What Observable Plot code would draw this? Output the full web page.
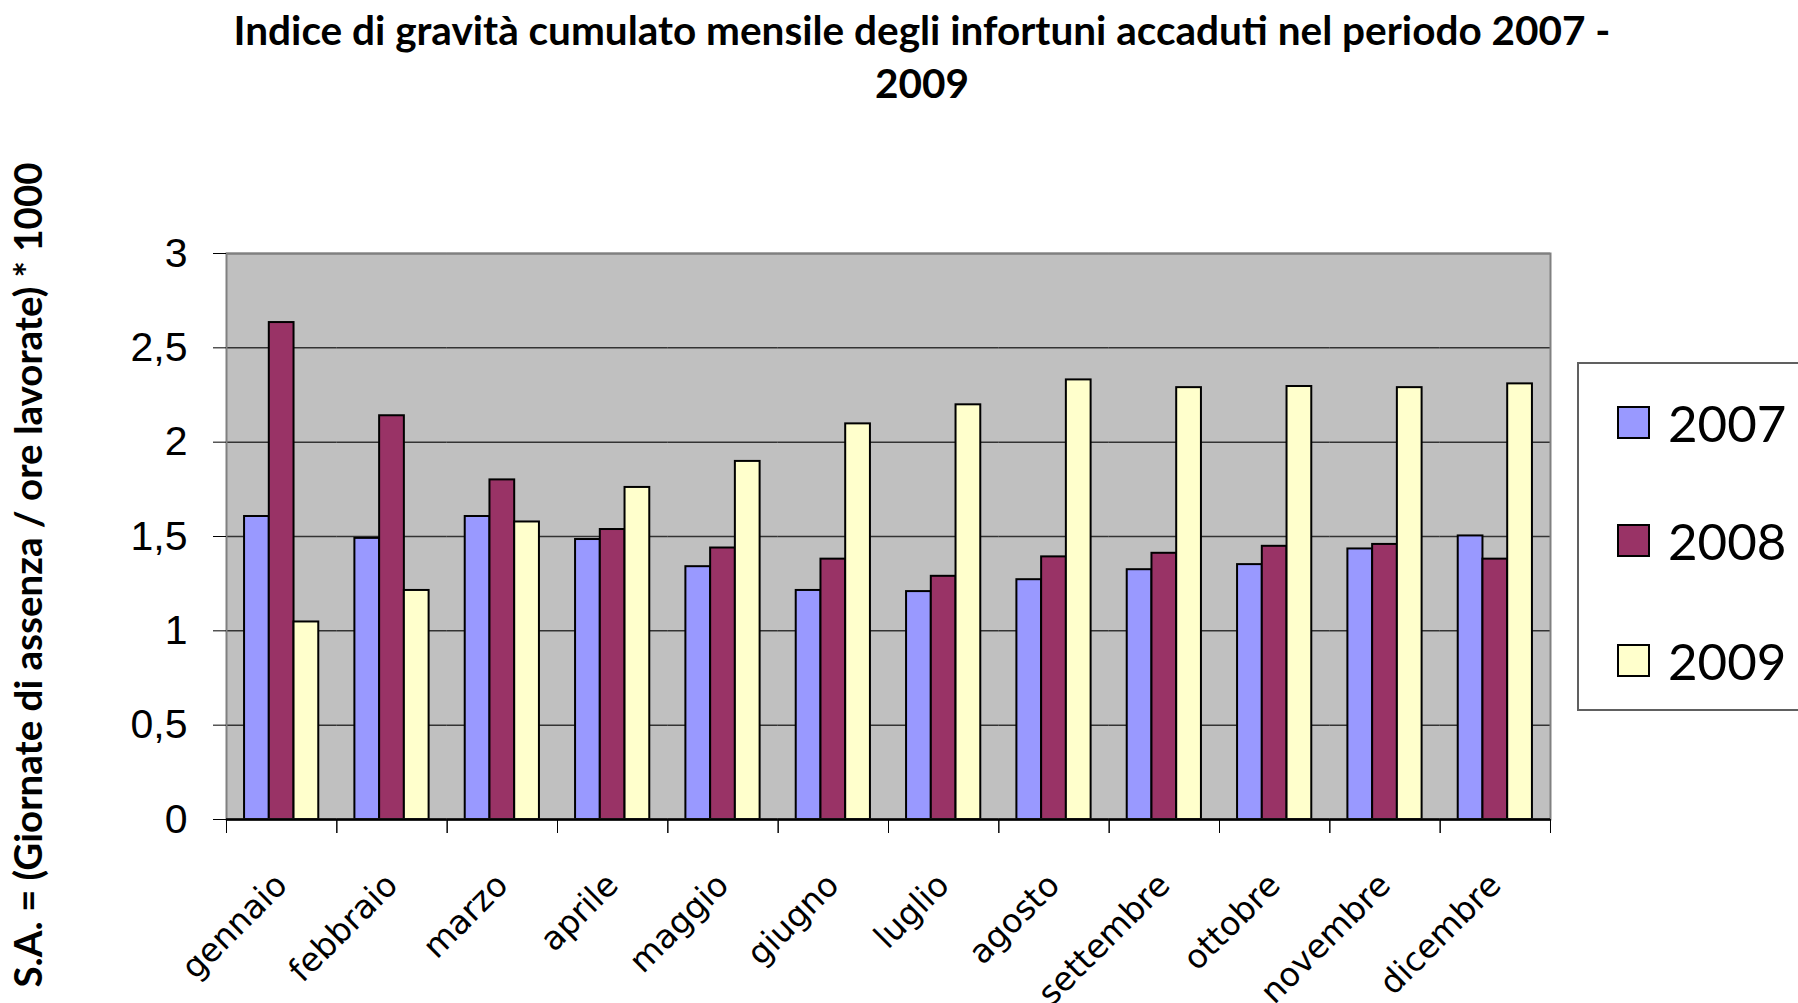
<!DOCTYPE html>
<html>
<head>
<meta charset="utf-8">
<script src="https://cdn.jsdelivr.net/npm/d3@7"></script>
<script src="https://cdn.jsdelivr.net/npm/@observablehq/plot@0.6"></script>
<style>
  html, body { margin: 0; padding: 0; background: #fff; overflow: hidden; color: #000; }
  #wrap { position: relative; width: 1798px; height: 1003px; overflow: hidden; }
  #title { font-family: Lato, "Open Sans", sans-serif; font-weight: bold; font-size: 40.5px; line-height: 53px;
           text-align: center; width: 1752px; padding-left: 46px; padding-top: 3px; height: 111px; margin: 0; white-space: nowrap; }
  #ylabel { position: absolute; left: 27px; top: 575px; transform: translate(-50%, -50%) rotate(-90deg);
            white-space: nowrap; font-family: Lato, "Open Sans", sans-serif; font-weight: bold; font-size: 38.5px; line-height: 40px; }
  #legend { position: absolute; left: 1577px; top: 362px; width: 260px; height: 349px; border: 2px solid #606060;
            box-sizing: border-box; background: #fff; }
  .item { position: absolute; left: 38px; height: 60px; display: flex; align-items: center; }
  .sw { width: 33px; height: 33px; border: 2px solid #000; box-sizing: border-box; margin-right: 18px; }
  .lt { font-family: Lato, "Open Sans", sans-serif; font-size: 51px; line-height: 51px; }
  svg { display: block; }
</style>
</head>
<body>
<div id="wrap">
  <div id="title">Indice di gravità cumulato mensile degli infortuni accaduti nel periodo 2007 -<br>2009</div>
  <div id="chart"></div>
  <div id="ylabel"></div>
  <div id="legend"></div>
</div>
<script>
const months = ["gennaio", "febbraio", "marzo", "aprile", "maggio", "giugno", "luglio", "agosto", "settembre", "ottobre", "novembre", "dicembre"];
const years = ["2007", "2008", "2009"];
const v2007 = [1.606, 1.490, 1.606, 1.484, 1.340, 1.214, 1.208, 1.271, 1.324, 1.351, 1.434, 1.503];
const v2008 = [2.634, 2.140, 1.800, 1.537, 1.439, 1.380, 1.289, 1.392, 1.411, 1.448, 1.458, 1.380];
const v2009 = [1.047, 1.214, 1.577, 1.760, 1.898, 2.097, 2.198, 2.330, 2.289, 2.295, 2.289, 2.309];
const colors = ["#9999FF", "#993366", "#FFFFCC"];
const yTicks = [0, 0.5, 1, 1.5, 2, 2.5, 3];
const yLabel = "S.A. = (Giornate di assenza / ore lavorate) * 1000";

const series = [v2007, v2008, v2009];
const data = months.flatMap((m, i) => years.map((y, k) => ({month: m, year: y, value: series[k][i]})));

const halfBand = (1575 - 226 - 25) / months.length / 2;

const plot = Plot.plot({
  width: 1575,
  height: 889,
  marginLeft: 226,
  marginRight: 25,
  marginTop: 139,
  marginBottom: 184,
  style: {fontFamily: "'Liberation Sans', Arial, sans-serif", background: "transparent", color: "#000", overflow: "visible"},
  fx: {domain: months, padding: 0, round: false, label: null},
  x: {domain: years, paddingInner: 0, paddingOuter: 0.73, round: false, axis: null},
  y: {domain: [0, 3], label: null},
  color: {domain: years, range: colors},
  marks: [
    Plot.frame({facet: "super", fill: "#c0c0c0", stroke: "none"}),
    Plot.gridY(yTicks, {stroke: "#333333", strokeOpacity: 1, strokeWidth: 1.5}),
    Plot.barY(data, {fx: "month", x: "year", y: "value", fill: "year", stroke: "#000", strokeWidth: 2}),
    Plot.frame({facet: "super", stroke: "#808080", strokeWidth: 2}),
    Plot.ruleY([0], {stroke: "#000", strokeWidth: 2.5}),
    Plot.axisY(yTicks, {tickSize: 13, tickPadding: 26, tickFormat: d => String(d).replace(".", ","), fontSize: 41, label: null, stroke: "#000"}),
    Plot.axisFx({anchor: "bottom", tickSize: 0, tickPadding: 60, tickRotate: -45, fontSize: 33, fontFamily: "'DejaVu Sans', Verdana, sans-serif", label: null}),
    Plot.axisFx({anchor: "bottom", tickSize: 14, tickFormat: () => "", dx: -halfBand, label: null, stroke: "#000"}),
    Plot.axisFx(["dicembre"], {anchor: "bottom", tickSize: 14, tickFormat: () => "", dx: halfBand, label: null, stroke: "#000"})
  ]
});
document.getElementById("chart").appendChild(plot);

document.getElementById("ylabel").textContent = yLabel;

const legend = document.getElementById("legend");
const legendCenters = [58, 176, 296];
years.forEach((y, k) => {
  const item = document.createElement("div");
  item.className = "item";
  item.style.top = (legendCenters[k] - 30) + "px";
  const sw = document.createElement("div");
  sw.className = "sw";
  sw.style.background = colors[k];
  const t = document.createElement("span");
  t.className = "lt";
  t.textContent = y;
  item.appendChild(sw);
  item.appendChild(t);
  legend.appendChild(item);
});
</script>
</body>
</html>
